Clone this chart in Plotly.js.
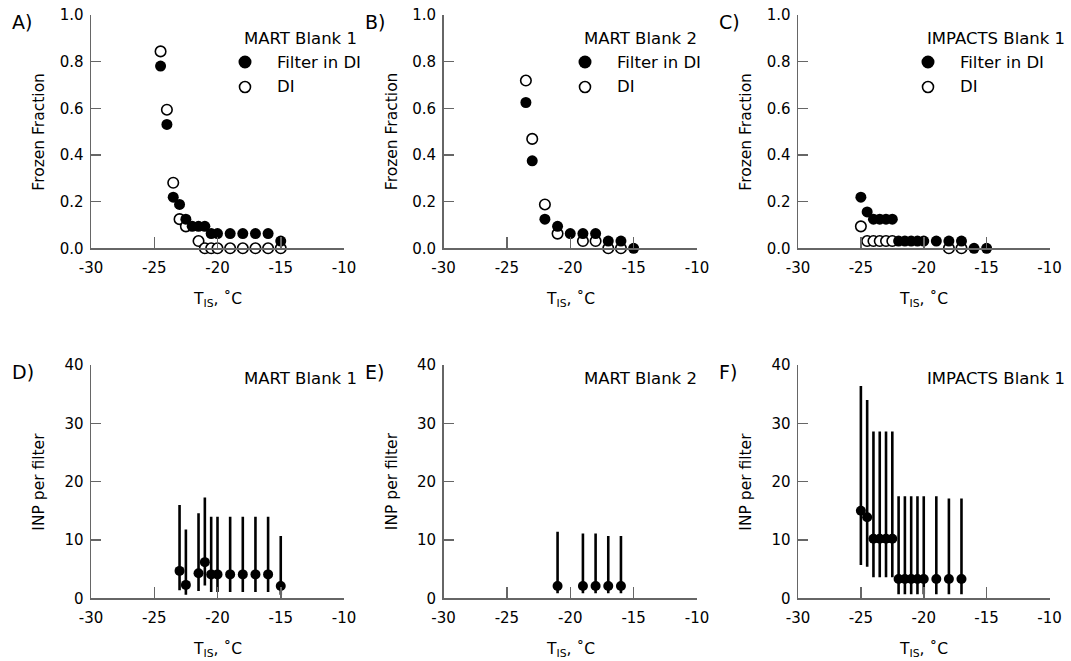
<!DOCTYPE html>
<html>
<head>
<meta charset="utf-8">
<script src="https://cdn.plot.ly/plotly-3.0.1.min.js"></script>
<style>html,body{margin:0;padding:0;background:#fff;}#chart{width:1071px;height:661px;}</style>
</head>
<body>
<div id="chart"></div>
<script>
// ---------- Data ----------
// Panel A: MART Blank 1 (frozen fraction)
const tA_filter = [-24.5,-24,-23.5,-23,-22.5,-22,-21.5,-21,-20.5,-20,-19,-18,-17,-16,-15];
const ffA_filter = [0.781,0.531,0.219,0.188,0.125,0.094,0.094,0.094,0.063,0.063,0.063,0.063,0.063,0.063,0.031];
const tA_di = [-24.5,-24,-23.5,-23,-22.5,-21.5,-21,-20.5,-20,-19,-18,-17,-16,-15];
const ffA_di = [0.844,0.594,0.281,0.125,0.094,0.031,0,0,0,0,0,0,0,0];
// Panel B: MART Blank 2
const tB_filter = [-23.5,-23,-22,-21,-20,-19,-18,-17,-16,-15];
const ffB_filter = [0.625,0.375,0.125,0.094,0.063,0.063,0.063,0.031,0.031,0];
const tB_di = [-23.5,-23,-22,-21,-19,-18,-17,-16];
const ffB_di = [0.719,0.469,0.188,0.063,0.031,0.031,0,0];
// Panel C: IMPACTS Blank 1
const tC_filter = [-25,-24.5,-24,-23.5,-23,-22.5,-22,-21.5,-21,-20.5,-20,-19,-18,-17,-16,-15];
const ffC_filter = [0.219,0.156,0.125,0.125,0.125,0.125,0.031,0.031,0.031,0.031,0.031,0.031,0.031,0.031,0,0];
const tC_di = [-25,-24.5,-24,-23.5,-23,-22.5,-18,-17];
const ffC_di = [0.094,0.031,0.031,0.031,0.031,0.031,0,0];
// Panel D: MART Blank 1 (INP per filter, with lower/upper bounds)
const tD = [-23,-22.5,-21.5,-21,-20.5,-20,-19,-18,-17,-16,-15];
const inpD = [4.7,2.3,4.3,6.2,4.1,4.1,4.1,4.1,4.1,4.1,2.1];
const hiD = [16.0,11.8,14.6,17.3,14.0,14.0,14.0,14.0,14.0,14.0,10.7];
const loD = [1.4,0.6,1.25,2.2,1.1,1.1,1.1,1.1,1.1,1.1,0.6];
// Panel E: MART Blank 2
const tE = [-21,-19,-18,-17,-16];
const inpE = [2.1,2.1,2.1,2.1,2.1];
const hiE = [11.4,11.1,11.1,10.7,10.7];
const loE = [0.85,0.85,0.85,0.85,0.85];
// Panel F: IMPACTS Blank 1
const tF = [-25,-24.5,-24,-23.5,-23,-22.5,-22,-21.5,-21,-20.5,-20,-19,-18,-17];
const inpF = [15.0,13.9,10.2,10.2,10.2,10.2,3.3,3.3,3.3,3.3,3.3,3.3,3.3,3.3];
const hiF = [36.4,34.0,28.6,28.6,28.6,28.6,17.5,17.5,17.5,17.5,17.5,17.5,17.1,17.1];
const loF = [5.7,5.4,3.6,3.6,3.6,3.6,0.7,0.7,0.7,0.7,0.7,0.7,0.7,0.7];

const panelLetters = ['A)','B)','C)','D)','E)','F)'];
const sampleNames = ['MART Blank 1','MART Blank 2','IMPACTS Blank 1'];
const legendLabels = ['Filter in DI','DI'];
const xTicks = [-30,-25,-20,-15,-10];
const xTickText = ['-30','-25','-20','-15','-10'];
const ffTicks = [0,0.2,0.4,0.6,0.8,1.0];
const inpTicks = [0,10,20,30,40];

// ---------- Layout geometry (px) ----------
const W = 1071, H = 661;
const px = x => x / W;
const py = y => 1 - y / H;
const colX = [[91,344],[443.5,697],[798,1049.5]];
const rowY = [[15,248.3],[365,598.3]];
const FONT = 'DejaVu Sans, Arial, sans-serif';
const AX = '#666';

const traces = [];
function ffTraces(ax, tF_, fF_, tD_, fD_) {
  traces.push({x:tD_, y:fD_, xaxis:'x'+ax, yaxis:'y'+ax, type:'scatter', mode:'markers', cliponaxis:false,
    marker:{symbol:'circle', size:10.5, color:'#fff', line:{color:'#000', width:1.6}}, hoverinfo:'x+y'});
  traces.push({x:tF_, y:fF_, xaxis:'x'+ax, yaxis:'y'+ax, type:'scatter', mode:'markers', cliponaxis:false,
    marker:{symbol:'circle', size:11, color:'#000', line:{width:0}}, hoverinfo:'x+y'});
}
function inpTrace(ax, t, v, hi, lo) {
  traces.push({x:t, y:v, xaxis:'x'+ax, yaxis:'y'+ax, type:'scatter', mode:'markers', cliponaxis:false,
    marker:{symbol:'circle', size:10, color:'#000'},
    error_y:{type:'data', symmetric:false, array:hi.map((h,i)=>h-v[i]), arrayminus:lo.map((l,i)=>v[i]-l),
      color:'#000', thickness:2.6, width:0}, hoverinfo:'x+y'});
}
ffTraces('', tA_filter, ffA_filter, tA_di, ffA_di);
ffTraces('2', tB_filter, ffB_filter, tB_di, ffB_di);
ffTraces('3', tC_filter, ffC_filter, tC_di, ffC_di);
inpTrace('4', tD, inpD, hiD, loD);
inpTrace('5', tE, inpE, hiE, loE);
inpTrace('6', tF, inpF, hiF, loF);

const layout = {
  width: W, height: H, margin:{l:0,r:0,t:0,b:0}, showlegend:false,
  paper_bgcolor:'#fff', plot_bgcolor:'#fff',
  font:{family:FONT, color:'#000'},
  annotations: [], shapes: []
};

for (let i = 0; i < 6; i++) {
  const c = i % 3, r = Math.floor(i / 3);
  const n = i === 0 ? '' : String(i + 1);
  const [x0, x1] = colX[c], [y0, y1] = rowY[r];
  layout['xaxis' + n] = {
    domain:[px(x0), px(x1)], anchor:'y' + n, range:[-30,-10], tickmode:'array', tickvals:xTicks, ticktext:xTickText,
    ticks:'inside', ticklen:11, tickwidth:1.5, tickcolor:AX, showline:true, linecolor:AX, linewidth:1.5,
    showgrid:false, zeroline:false, tickfont:{size:15, family:FONT}, ticklabelstandoff:5, fixedrange:true
  };
  const isFF = r === 0;
  layout['yaxis' + n] = {
    domain:[py(y1), py(y0)], anchor:'x' + n, range: isFF ? [0,1] : [0,40], tickmode:'array',
    tickvals: isFF ? ffTicks : inpTicks,
    ticktext: isFF ? ffTicks.map(v => v.toFixed(1)) : inpTicks.map(String),
    ticks:'inside', ticklen:10, tickwidth:1.5, tickcolor:AX, showline:true, linecolor:AX, linewidth:1.5,
    showgrid:false, zeroline:false, tickfont:{size:15, family:FONT}, ticklabelstandoff:3, fixedrange:true
  };
  // panel letter
  layout.annotations.push({xref:'paper', yref:'paper', x:px(x0 - 81), y:py(y0 + 7), xanchor:'left', yanchor:'middle',
    text:panelLetters[i], showarrow:false, font:{size:19, family:FONT}});
  // y title
  layout.annotations.push({xref:'paper', yref:'paper', x:px(x0 - 52), y:py((y0 + y1) / 2), xanchor:'center', yanchor:'middle',
    textangle:-90, text: isFF ? 'Frozen Fraction' : 'INP per filter', showarrow:false, font:{size:15.5, family:FONT}});
  // x title
  layout.annotations.push({xref:'paper', yref:'paper', x:px((x0 + x1) / 2), y:py(y1 + 52), xanchor:'center', yanchor:'middle',
    text:'T<sub>IS</sub>, ˚C', showarrow:false, font:{size:15.5, family:FONT}});
}

// Legends / sample names
const legX = [245, 585, 928];
for (let c = 0; c < 3; c++) {
  const lx = legX[c];
  layout.annotations.push({xref:'paper', yref:'paper', x:px(lx - 3), y:py(38), xanchor:'left', yanchor:'middle',
    text:sampleNames[c], showarrow:false, font:{size:16.5, family:FONT}});
  layout.annotations.push({xref:'paper', yref:'paper', x:px(lx + 30), y:py(62), xanchor:'left', yanchor:'middle',
    text:legendLabels[0], showarrow:false, font:{size:16.5, family:FONT}});
  layout.annotations.push({xref:'paper', yref:'paper', x:px(lx + 30), y:py(87), xanchor:'left', yanchor:'middle',
    text:legendLabels[1], showarrow:false, font:{size:16.5, family:FONT}});
  layout.shapes.push({type:'circle', xref:'paper', yref:'paper', xsizemode:'pixel', ysizemode:'pixel',
    xanchor:px(lx), yanchor:py(62), x0:-6.5, x1:6.5, y0:-6.5, y1:6.5, fillcolor:'#000', line:{width:0}});
  layout.shapes.push({type:'circle', xref:'paper', yref:'paper', xsizemode:'pixel', ysizemode:'pixel',
    xanchor:px(lx), yanchor:py(87), x0:-5.5, x1:5.5, y0:-5.5, y1:5.5, fillcolor:'#fff', line:{width:1.6, color:'#000'}});
  // bottom panel sample name
  layout.annotations.push({xref:'paper', yref:'paper', x:px(lx - 3), y:py(378), xanchor:'left', yanchor:'middle',
    text:sampleNames[c], showarrow:false, font:{size:16.5, family:FONT}});
}

Plotly.newPlot('chart', traces, layout, {displayModeBar:false, staticPlot:true});
</script>
</body>
</html>
